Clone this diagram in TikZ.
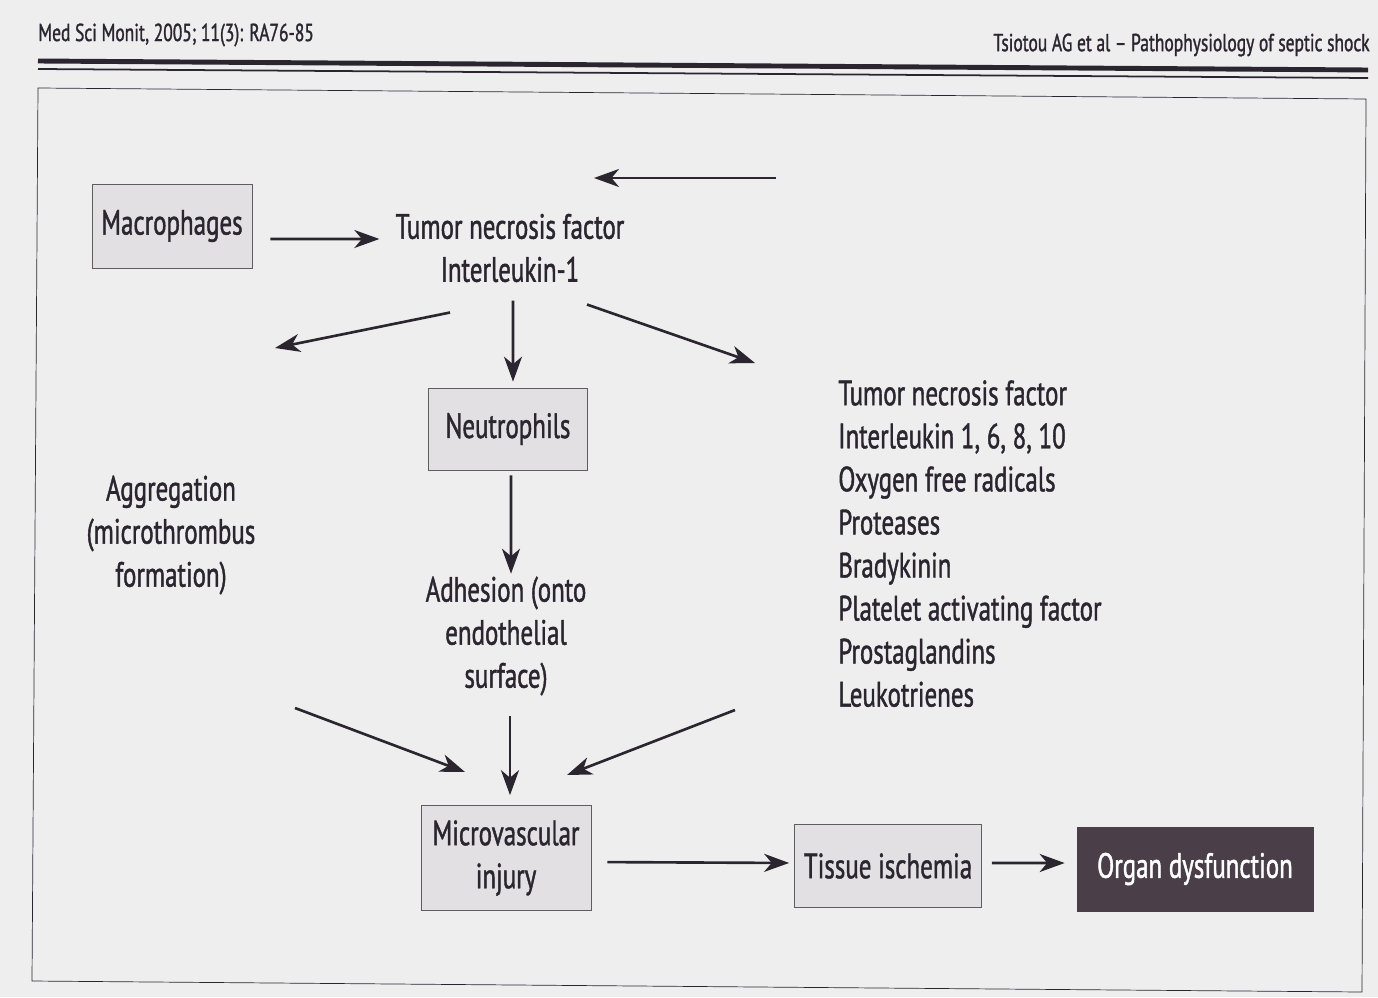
\documentclass[tikz,border=0pt]{standalone}
\usepackage{fontspec}
\setmainfont[FakeStretch=0.71, FakeBold=1.2]{PT Sans}
\usetikzlibrary{positioning, calc, arrows.meta}
\definecolor{paper}{HTML}{EFEEEF}
\definecolor{ink}{HTML}{2B2530}
\definecolor{boxgray}{HTML}{E2E0E2}
\definecolor{organfill}{HTML}{4A3E49}
\tikzset{
every node/.style = {text = ink, font = \fontsize{20}{24.5}\selectfont},
cell/.style = {rectangle, draw = ink!75, thin, fill = boxgray, inner sep = 0pt,
   align = center},
darkcell/.style = {rectangle, draw = organfill, thin, fill = organfill, inner sep = 0pt,
   text = white, align = center},
factor/.style = {inner sep = 0pt, align = center},
factorlist/.style = {inner sep = 0pt, align = left},
header/.style = {inner sep = 0pt, font = \fontsize{14}{16}\selectfont},
flow/.style = {-{Stealth[length = 5mm, width = 3.6mm, inset = 1.5mm]}, line width = 1.5pt,
   draw = ink},
rule/.style = {draw = ink}
}

\begin{document}
\begin{tikzpicture}[x = 0.02cm, y = -0.02cm]

%% Page and frame
\fill [paper] (0,0) rectangle (1378,997);
\useasboundingbox (0,0) rectangle (1378,997);

\node [header, anchor = west] (jour) at (38,35) {Med Sci Monit, 2005; 11(3): RA76-85};
\node [header, anchor = east] (auth) at (1370,45) {Tsiotou AG et al -- Pathophysiology of septic shock};

\coordinate (r1) at (38,61);
\coordinate (r2) at (1368,70);
\draw [rule, line width = 2.8pt] (r1) -- (r2);
\draw [rule, line width = 1pt] ($(r1)+(0,8)$) -- ($(r2)+(0,8)$);

\coordinate (f1) at (38,88);
\coordinate (f2) at (1366,99);
\coordinate (f3) at (1362,992);
\coordinate (f4) at (32,981);
\draw [rule, thin] (f1) -- (f2) -- (f3) -- (f4) -- cycle;

%% Cells
\node [cell, minimum width = 3.2cm, minimum height = 1.68cm] (macro) at (172,226) {Macrophages};
\node [factor] (tnf) at (510,248) {Tumor necrosis factor\\Interleukin-1};
\node [cell, minimum width = 3.18cm, minimum height = 1.64cm] (neutro) at (508,429) {Neutrophils};
\node [factor] (adhes) at (506,636) {Adhesion (onto\\endothelial\\surface)};
\node [factor] (aggreg) at (171,535) {Aggregation\\(microthrombus\\formation)};
\node [factorlist, anchor = north west] (mediat) at (838,380) {Tumor necrosis factor\\
   Interleukin 1, 6, 8, 10\\Oxygen free radicals\\Proteases\\Bradykinin\\
   Platelet activating factor\\Prostaglandins\\Leukotrienes};

\node [cell, minimum width = 3.4cm, minimum height = 2.1cm] (micro) at (506,858) {Microvascular\\injury};
\node [cell, minimum width = 3.74cm, minimum height = 1.66cm] (tissue) at (888,866) {Tissue ischemia};
\node [darkcell, minimum width = 4.72cm, minimum height = 1.68cm] (organ) at (1195,869) {Organ dysfunction};

%% Free ends
\coordinate (fb) at (776,178);
\coordinate (fbend) at (594,178);
\coordinate (ln) at (275,348);
\coordinate (rn) at (755,363);
\coordinate (bl1) at (295,708);
\coordinate (bl2) at (465,772);
\coordinate (br1) at (735,710);
\coordinate (br2) at (567,775);

%% Arrows
\path (fb) edge [flow] (fbend);
\path ([yshift = -0.26cm]macro.east) edge [flow, shorten < = 0.36cm, shorten > = 0.32cm] ([yshift = 0.18cm]tnf.west);
\path ([xshift = 0.06cm]tnf.south) edge [flow, shorten < = 0.36cm, shorten > = 0.12cm] ([xshift = 0.1cm]neutro.north);
\path ([xshift = -1.2cm, yshift = -0.6cm]tnf.south) edge [flow] (ln);
\path ([xshift = 1.54cm, yshift = -0.44cm]tnf.south) edge [flow] (rn);
\path ([xshift = 0.06cm]neutro.south) edge [flow, shorten < = 0.1cm, shorten > = 0.05cm] ([xshift = 0.1cm]adhes.north);
\path ([xshift = 0.08cm]adhes.south) edge [flow, shorten < = 0.4cm, shorten > = 0.2cm] ([xshift = 0.08cm]micro.north);
\path (bl1) edge [flow] (bl2);
\path (br1) edge [flow] (br2);
\path ([yshift = -0.08cm]micro.east) edge [flow, shorten < = 0.32cm, shorten > = 0.1cm] ([yshift = 0.06cm]tissue.west);
\path ([yshift = 0.06cm]tissue.east) edge [flow, shorten < = 0.2cm, shorten > = 0.24cm] ([yshift = 0.12cm]organ.west);

\end{tikzpicture}
\end{document}
